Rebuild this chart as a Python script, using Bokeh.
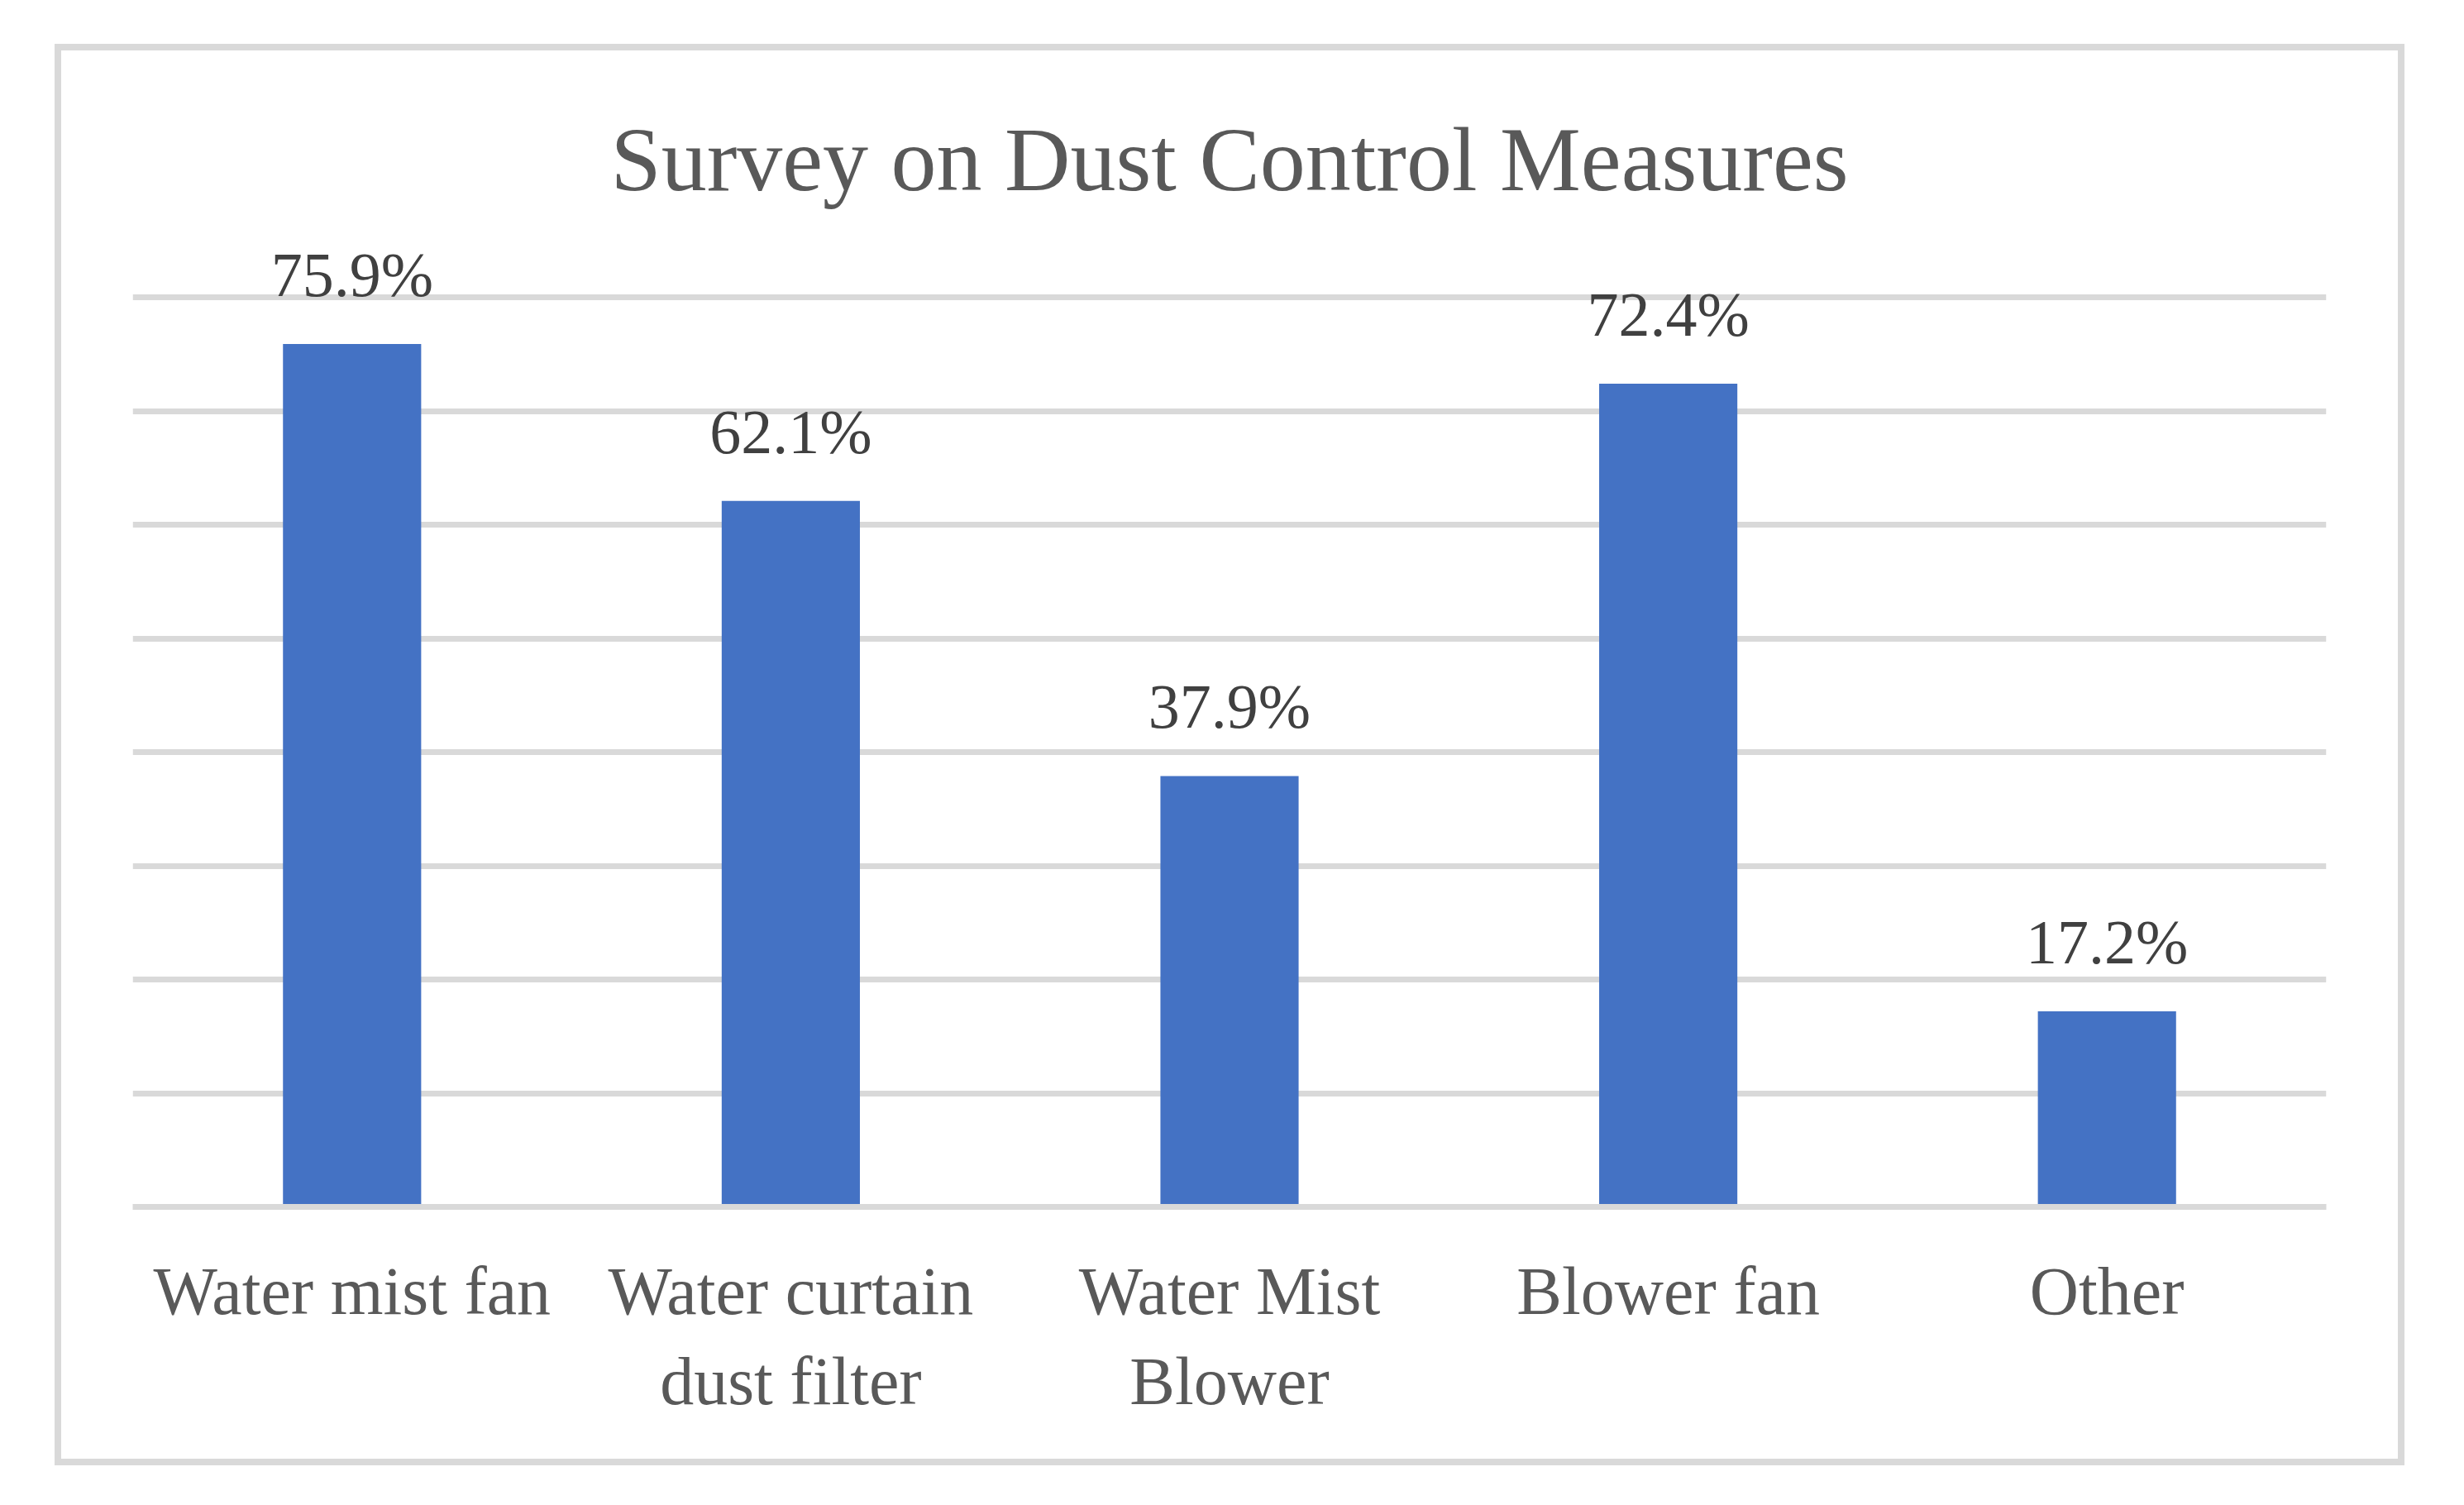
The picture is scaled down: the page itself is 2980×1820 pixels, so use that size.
from bokeh.plotting import figure
from bokeh.models import ColumnDataSource, LabelSet, FixedTicker, Range1d, FactorRange
from bokeh.embed import file_html
from bokeh.resources import INLINE

categories = ["Water mist fan", "Water curtain\ndust filter", "Water Mist\nBlower", "Blower fan", "Other"]
values = [75.9, 62.1, 37.9, 72.4, 17.2]
labels = ["75.9%", "62.1%", "37.9%", "72.4%", "17.2%"]
grid_ticks = [0, 10, 20, 30, 40, 50, 60, 70, 80]

FONT = "Liberation Serif"

src = ColumnDataSource(dict(cat=categories, val=values, lab=labels))

# inner box of the gray chart border (page px): x 74..2900, y 61..1764
W, H = 2826, 1703
BW = 8                                   # border width
FL, FR, FT, FB = 86, 2739, 197, 1398     # frame edges inside the canvas
px_per_unit = 13.75
y_top = (FB - FT) / px_per_unit

p = figure(width=W, height=H, output_backend="svg", toolbar_location=None,
           x_range=FactorRange(*categories), y_range=Range1d(0, y_top),
           min_border_left=FL, min_border_right=W + 2 * BW - FR,
           min_border_top=FT, min_border_bottom=H + 2 * BW - FB,
           title="Survey on Dust Control Measures",
           styles={"border": f"{BW}px solid #d9d9d9", "margin-left": "66px",
                   "margin-top": "53px", "box-sizing": "content-box"})

p.title.align = "center"
p.title.text_font = FONT
p.title.text_font_size = "110px"
p.title.text_font_style = "normal"
p.title.text_color = "#595959"

p.vbar(x="cat", top="val", width=0.315, source=src, fill_color="#4472C4", line_color=None)

p.add_layout(LabelSet(x="cat", y="val", text="lab", source=src, text_align="center",
                      text_baseline="alphabetic", y_offset=58, text_font=FONT,
                      text_font_size="76px", text_color="#404040"))

p.xgrid.visible = False
p.ygrid.ticker = FixedTicker(ticks=grid_ticks)
p.ygrid.grid_line_color = "#d9d9d9"
p.ygrid.grid_line_width = 7
p.yaxis.visible = False

ax = p.xaxis[0]
ax.axis_line_color = "#d9d9d9"
ax.axis_line_width = 7
ax.major_tick_line_color = None
ax.minor_tick_line_color = None
ax.major_label_text_font = FONT
ax.major_label_text_font_size = "82px"
ax.major_label_text_color = "#595959"
ax.major_label_standoff = 50

p.outline_line_color = None
p.background_fill_color = "white"
p.border_fill_color = "white"

open("out.html", "w").write(file_html(p, INLINE))
